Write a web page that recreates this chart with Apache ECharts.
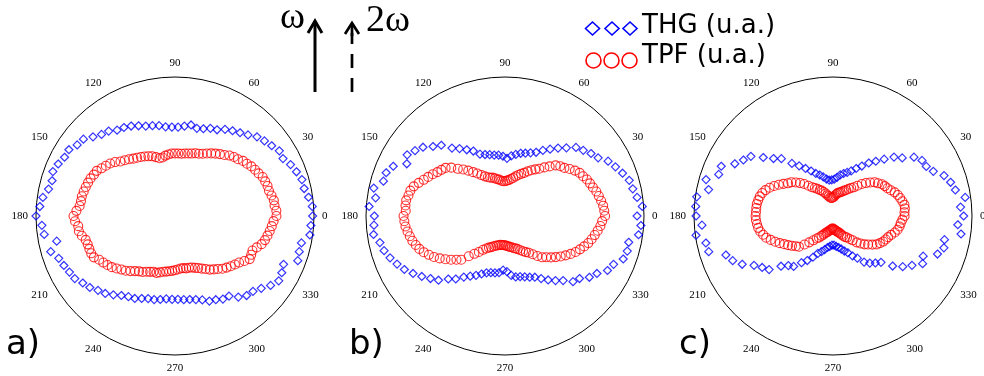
<!DOCTYPE html>
<html>
<head>
<meta charset="utf-8">
<script src="https://cdn.jsdelivr.net/npm/echarts@6/dist/echarts.min.js"></script>
<style>html,body{margin:0;padding:0;background:#fff;}#chart{width:984px;height:376px;}</style>
</head>
<body>
<div id="chart"></div>
<script>
// Measurement angles (degrees)
const thgAngles = [0,4,8,12,16,20,24,28,32,36,40,44,48,52,56,60,64,68,72,76,80,84,88,92,96,100,104,108,112,116,120,124,128,132,136,140,144,148,152,156,160,164,168,172,176,180,184,188,192,196,200,204,208,212,216,220,224,228,232,236,240,244,248,252,256,260,264,268,272,276,280,284,288,292,296,300,304,308,312,316,320,324,328,332,336,340,344,348,352,356];
const tpfAngles = [0,3,6,9,12,15,18,21,24,27,30,33,36,39,42,45,48,51,54,57,60,63,66,69,72,75,78,81,84,87,90,93,96,99,102,105,108,111,114,117,120,123,126,129,132,135,138,141,144,147,150,153,156,159,162,165,168,171,174,177,180,183,186,189,192,195,198,201,204,207,210,213,216,219,222,225,228,231,234,237,240,243,246,249,252,255,258,261,264,267,270,273,276,279,282,285,288,291,294,297,300,303,306,309,312,315,318,321,324,327,330,333,336,339,342,345,348,351,354,357];

// Panel a)
const thgA = [0.99,0.99,0.97,0.95,0.95,0.93,0.91,0.88,0.885,0.86,
0.84,0.82,0.785,0.76,0.74,0.72,0.69,0.68,0.66,0.65,
0.665,0.65,0.64,0.64,0.645,0.66,0.67,0.68,0.70,0.72,
0.735,0.745,0.775,0.79,0.82,0.86,0.87,0.90,0.90,0.92,
0.935,0.92,0.93,0.96,0.975,1.0,0.96,0.95,0.87,0.93,
0.89,0.875,0.86,0.85,0.82,0.80,0.77,0.75,0.72,0.69,
0.67,0.66,0.64,0.625,0.62,0.61,0.60,0.60,0.60,0.605,
0.61,0.62,0.635,0.66,0.67,0.69,0.695,0.74,0.77,0.78,
0.81,0.85,0.88,0.87,0.855,0.94,0.93,0.93,0.98,0.98];
const tpfA = [0.73,0.73,0.72,0.72,0.71,0.70,0.70,0.695,0.69,0.675,
0.665,0.655,0.64,0.63,0.61,0.60,0.585,0.565,0.55,0.535,
0.52,0.505,0.49,0.48,0.475,0.465,0.46,0.455,0.45,0.45,
0.45,0.45,0.445,0.44,0.43,0.43,0.445,0.46,0.47,0.48,
0.49,0.50,0.51,0.525,0.54,0.555,0.58,0.60,0.615,0.63,
0.65,0.655,0.665,0.67,0.675,0.68,0.685,0.685,0.69,0.71,
0.73,0.72,0.70,0.70,0.685,0.665,0.66,0.66,0.66,0.655,
0.63,0.615,0.60,0.585,0.565,0.545,0.53,0.51,0.49,0.475,
0.465,0.45,0.44,0.43,0.43,0.42,0.41,0.405,0.40,0.395,
0.39,0.385,0.38,0.38,0.385,0.385,0.39,0.40,0.41,0.425,
0.44,0.46,0.475,0.49,0.51,0.525,0.54,0.555,0.57,0.595,
0.62,0.615,0.61,0.63,0.655,0.67,0.68,0.69,0.70,0.71];

// Panel b)
const thgB = [0.95,0.99,0.96,0.94,0.93,0.90,0.87,0.84,0.79,0.765,
0.735,0.71,0.66,0.62,0.58,0.545,0.51,0.49,0.475,0.465,
0.45,0.435,0.415,0.43,0.44,0.445,0.455,0.465,0.48,0.52,
0.55,0.585,0.62,0.685,0.72,0.77,0.80,0.83,0.80,0.88,
0.91,0.91,0.965,0.94,0.98,0.94,0.945,0.955,0.92,0.905,
0.88,0.85,0.82,0.78,0.74,0.70,0.665,0.61,0.575,0.53,
0.50,0.475,0.45,0.43,0.42,0.415,0.41,0.39,0.40,0.43,
0.445,0.45,0.46,0.475,0.49,0.52,0.555,0.59,0.625,0.68,
0.70,0.75,0.78,0.835,0.855,0.905,0.915,0.91,0.97,0.98];
const tpfB = [0.72,0.715,0.71,0.70,0.69,0.68,0.665,0.655,0.645,0.63,
0.62,0.60,0.575,0.55,0.535,0.515,0.48,0.45,0.42,0.40,
0.38,0.36,0.34,0.325,0.31,0.295,0.28,0.27,0.26,0.255,
0.25,0.25,0.255,0.265,0.27,0.28,0.29,0.295,0.305,0.32,
0.34,0.365,0.39,0.42,0.45,0.48,0.52,0.55,0.565,0.58,
0.60,0.62,0.64,0.665,0.69,0.705,0.71,0.72,0.72,0.715,
0.73,0.725,0.72,0.71,0.70,0.69,0.675,0.66,0.64,0.615,
0.59,0.56,0.53,0.50,0.47,0.445,0.39,0.35,0.32,0.29,
0.27,0.255,0.245,0.235,0.225,0.22,0.215,0.21,0.21,0.21,
0.21,0.215,0.22,0.225,0.23,0.24,0.245,0.255,0.27,0.285,
0.30,0.315,0.34,0.37,0.40,0.42,0.445,0.47,0.495,0.52,
0.545,0.57,0.59,0.61,0.63,0.645,0.66,0.675,0.69,0.70];

// Panel c)
const thgC = [0.94,0.92,0.96,0.90,0.88,0.85,0.79,0.76,0.755,0.72,
0.65,0.61,0.55,0.50,0.46,0.415,0.38,0.35,0.33,0.315,
0.30,0.28,0.265,0.26,0.26,0.27,0.29,0.31,0.33,0.36,
0.395,0.435,0.48,0.555,0.595,0.655,0.73,0.76,0.80,0.88,
0.875,0.95,0.915,0.99,0.99,0.985,0.945,0.995,0.935,0.93,
0.82,0.79,0.74,0.67,0.63,0.60,0.52,0.48,0.46,0.405,
0.37,0.33,0.29,0.27,0.25,0.23,0.22,0.21,0.21,0.22,
0.23,0.245,0.265,0.285,0.32,0.35,0.40,0.43,0.455,0.48,
0.56,0.62,0.67,0.73,0.71,0.80,0.83,0.82,0.93,0.90];
const tpfC = [0.515,0.515,0.52,0.52,0.51,0.50,0.49,0.475,0.455,0.44,
0.43,0.42,0.40,0.385,0.36,0.335,0.31,0.28,0.255,0.24,
0.225,0.21,0.20,0.19,0.18,0.175,0.17,0.16,0.15,0.14,
0.135,0.13,0.13,0.135,0.145,0.155,0.17,0.185,0.20,0.21,
0.225,0.24,0.255,0.28,0.31,0.335,0.36,0.385,0.40,0.425,
0.45,0.475,0.50,0.52,0.535,0.545,0.55,0.555,0.555,0.555,
0.557,0.555,0.55,0.545,0.535,0.52,0.505,0.48,0.455,0.43,
0.405,0.385,0.365,0.345,0.33,0.29,0.255,0.225,0.20,0.185,
0.165,0.15,0.135,0.125,0.12,0.11,0.105,0.10,0.095,0.09,
0.09,0.095,0.10,0.105,0.11,0.115,0.125,0.13,0.145,0.16,
0.175,0.185,0.205,0.225,0.255,0.28,0.305,0.325,0.35,0.375,
0.39,0.405,0.415,0.425,0.44,0.46,0.475,0.485,0.49,0.50];

const angleTicks = [0,30,60,90,120,150,180,210,240,270,300,330];
const panelLabels = ['a)','b)','c)'];
const seriesNames = ['THG (u.a.)','TPF (u.a.)'];

const panels = [
  {thg: thgA, tpf: tpfA, center: [175, 216]},
  {thg: thgB, tpf: tpfB, center: [505, 216]},
  {thg: thgC, tpf: tpfC, center: [833, 216]}
];
const labelX = [6, 349, 679];

const chart = echarts.init(document.getElementById('chart'), null, {renderer: 'canvas'});

const polar = [], angleAxis = [], radiusAxis = [], series = [];
panels.forEach((p, i) => {
  polar.push({center: p.center, radius: 139});
  angleAxis.push({
    polarIndex: i, type: 'value', min: 0, max: 360, interval: 30,
    startAngle: 0, clockwise: false,
    axisLine: {show: true, lineStyle: {color: '#000', width: 1}},
    axisTick: {show: false}, splitLine: {show: false},
    axisLabel: {
      margin: 8, color: '#000', fontFamily: 'Liberation Serif', fontSize: 11,
      formatter: v => angleTicks.indexOf(v) >= 0 ? String(v) : ''
    }
  });
  radiusAxis.push({polarIndex: i, min: 0, max: 1, show: false});
  series.push({
    name: seriesNames[0], type: 'scatter', coordinateSystem: 'polar', polarIndex: i,
    symbol: 'diamond', symbolSize: 8,
    itemStyle: {color: 'rgba(0,0,0,0)', borderColor: '#0000ff', borderWidth: 1.2},
    data: p.thg.map((r, k) => [r, thgAngles[k]])
  });
  series.push({
    name: seriesNames[1], type: 'scatter', coordinateSystem: 'polar', polarIndex: i,
    symbol: 'circle', symbolSize: 9,
    itemStyle: {color: 'rgba(0,0,0,0)', borderColor: '#ff0000', borderWidth: 1.1},
    data: p.tpf.map((r, k) => [r, tpfAngles[k]])
  });
});

const graphic = [];
// panel letters
panelLabels.forEach((t, i) => {
  graphic.push({type: 'text', x: labelX[i], y: 345,
    style: {text: t, font: '34px "DejaVu Sans"', fill: '#000', verticalAlign: 'middle', align: 'left'}});
});
// omega arrows
graphic.push({type: 'line', shape: {x1: 315, y1: 92, x2: 315, y2: 22}, style: {stroke: '#000', lineWidth: 3}});
graphic.push({type: 'polyline', shape: {points: [[308, 33], [315, 21], [322, 33]]}, style: {stroke: '#000', lineWidth: 3, fill: null}});
graphic.push({type: 'line', shape: {x1: 352, y1: 92, x2: 352, y2: 33}, style: {stroke: '#000', lineWidth: 2.7, lineDash: [14, 10]}});
graphic.push({type: 'line', shape: {x1: 352, y1: 36, x2: 352, y2: 24}, style: {stroke: '#000', lineWidth: 2.7}});
graphic.push({type: 'polyline', shape: {points: [[345, 34], [352, 23], [359, 34]]}, style: {stroke: '#000', lineWidth: 2.7, fill: null}});
graphic.push({type: 'text', x: 280, y: 18, style: {text: 'ω', font: '38px "Liberation Serif"', fill: '#000', verticalAlign: 'middle'}});
graphic.push({type: 'text', x: 366, y: 21, style: {text: '2ω', font: '38px "Liberation Serif"', fill: '#000', verticalAlign: 'middle'}});
// legend
[592.5, 612, 630].forEach(cx => {
  graphic.push({type: 'polygon', shape: {points: [[cx, 22], [cx + 7, 28.5], [cx, 35], [cx - 7, 28.5]]},
    style: {fill: null, stroke: '#0000ff', lineWidth: 1.6}});
});
[593.5, 611.5, 629.5].forEach(cx => {
  graphic.push({type: 'circle', shape: {cx: cx, cy: 60.5, r: 7.5},
    style: {fill: null, stroke: '#ff0000', lineWidth: 1.6}});
});
graphic.push({type: 'text', x: 642, y: 26.5, style: {text: seriesNames[0], font: '26px "DejaVu Sans"', fill: '#000', verticalAlign: 'middle'}});
graphic.push({type: 'text', x: 642, y: 56.5, style: {text: seriesNames[1], font: '26px "DejaVu Sans"', fill: '#000', verticalAlign: 'middle'}});

chart.setOption({
  animation: false,
  backgroundColor: '#fff',
  polar: polar,
  angleAxis: angleAxis,
  radiusAxis: radiusAxis,
  series: series,
  graphic: graphic
});
</script>
</body>
</html>
